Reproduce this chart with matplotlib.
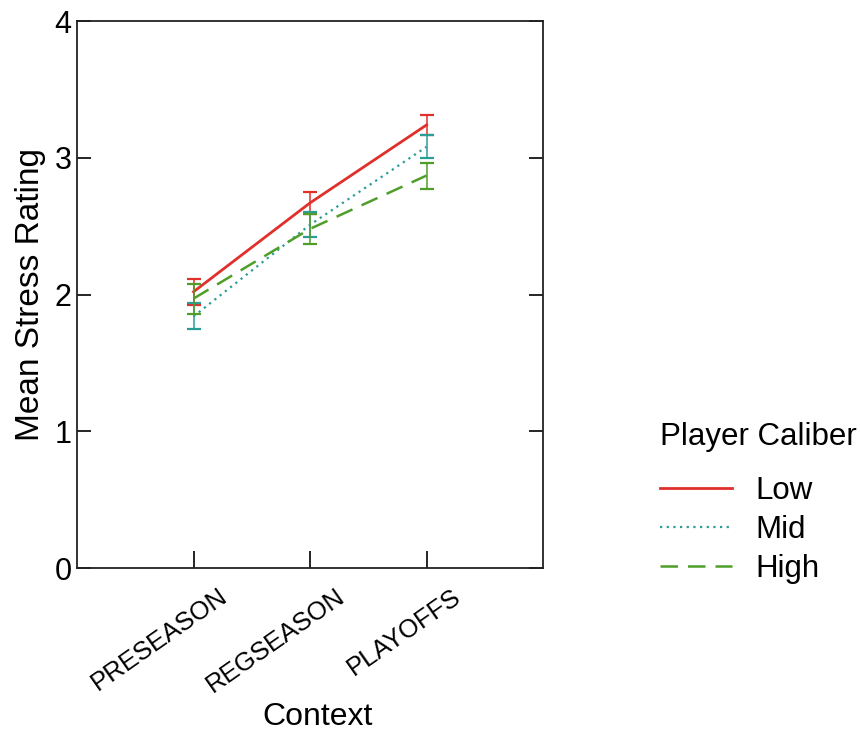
import matplotlib.pyplot as plt
import matplotlib.transforms as mtransforms

plt.rcParams['font.family'] = ['Liberation Sans', 'DejaVu Sans']

# Data
contexts = ['PRESEASON', 'REGSEASON', 'PLAYOFFS']
low_mean = [2.02, 2.67, 3.24]
low_err = [0.095, 0.08, 0.07]
mid_mean = [1.84, 2.51, 3.08]
mid_err = [0.095, 0.09, 0.085]
high_mean = [1.97, 2.48, 2.87]
high_err = [0.11, 0.11, 0.095]

x = [1, 2, 3]

fig = plt.figure(figsize=(8.6, 7.35), dpi=100)
ax = fig.add_axes([0.0895, 0.2272, 0.542, 0.7442])

# Series: (label, means, errors, colour, linestyle, width)
series = [
    ('Low', low_mean, low_err, '#e0302c', '-', 2.0),
    ('Mid', mid_mean, mid_err, '#2a9d95', (0, (1, 2)), 1.6),
    ('High', high_mean, high_err, '#4f9e2a', (0, (7, 4)), 1.8),
]

handles = []
for label, means, errs, color, ls, lw in series:
    line, = ax.plot(x, means, color=color, linestyle=ls, linewidth=lw, label=label)
    handles.append(line)
    ax.errorbar(x, means, yerr=errs, fmt='none', ecolor=color,
                elinewidth=1.1, capsize=5, capthick=1.6)

ax.set_xlim(0, 4)
ax.set_ylim(0, 4)
ax.set_yticks([0, 1, 2, 3, 4])
ax.set_xticks(x)
ax.set_xticklabels([])

# Rotated category labels, right ends sitting a bit past each tick
lab_trans = mtransforms.blended_transform_factory(ax.transData, ax.transAxes) + \
    mtransforms.ScaledTranslation(0.25, -0.16, fig.dpi_scale_trans)
for xi, name in zip(x, contexts):
    ax.text(xi, 0, name, transform=lab_trans, rotation=35, ha='right',
            va='top', rotation_mode='anchor', fontsize=18.5)

ax.tick_params(axis='y', direction='in', length=10, width=1.2,
               labelsize=22, pad=4, right=True)
ax.tick_params(axis='x', direction='in', length=12, width=1.2)

for side in ax.spines.values():
    side.set_linewidth(1.3)
    side.set_color('#222222')

ax.set_ylabel('Mean Stress Rating', fontsize=24)
ax.yaxis.set_label_coords(-0.066, 0.5)
ax.set_xlabel('Context', fontsize=23)
ax.xaxis.set_label_coords(0.517, -0.245)

# Legend with its title placed separately (larger gap in the reference)
fig.text(660 / 860, 1 - 437 / 735, 'Player Caliber', fontsize=22.5,
         ha='left', va='center')
fig.legend(handles=handles, labels=[s[0] for s in series], loc='center left',
           bbox_to_anchor=(660 / 860, 1 - 530 / 735),
           bbox_transform=fig.transFigure, frameon=False, fontsize=22.5,
           handlelength=2.3, handletextpad=0.75, labelspacing=0.3,
           borderpad=0, borderaxespad=0)

fig.savefig('out.png', dpi=100)
